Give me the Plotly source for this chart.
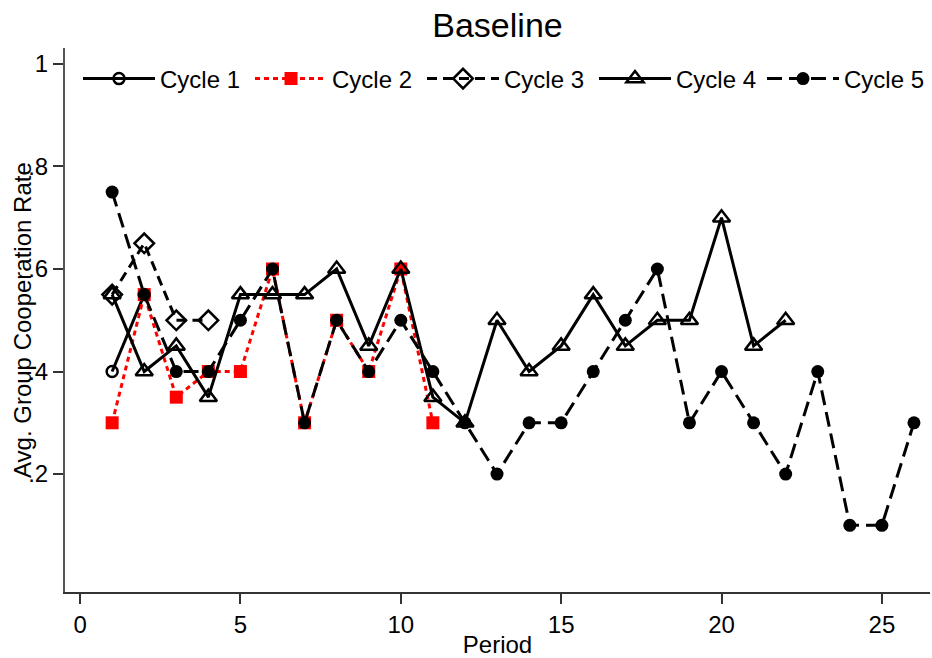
import plotly.graph_objects as go

# ---- data ----
cycle1_period = [1, 2]
cycle1_rate = [0.4, 0.55]

cycle2_period = [1, 2, 3, 4, 5, 6, 7, 8, 9, 10, 11]
cycle2_rate = [0.3, 0.55, 0.35, 0.4, 0.4, 0.6, 0.3, 0.5, 0.4, 0.6, 0.3]

cycle3_period = [1, 2, 3, 4]
cycle3_rate = [0.55, 0.65, 0.5, 0.5]

cycle4_period = list(range(1, 23))
cycle4_rate = [0.55, 0.4, 0.45, 0.35, 0.55, 0.55, 0.55, 0.6, 0.45, 0.6, 0.35,
               0.3, 0.5, 0.4, 0.45, 0.55, 0.45, 0.5, 0.5, 0.7, 0.45, 0.5]

cycle5_period = list(range(1, 27))
cycle5_rate = [0.75, 0.55, 0.4, 0.4, 0.5, 0.6, 0.3, 0.5, 0.4, 0.5, 0.4, 0.3, 0.2,
               0.3, 0.3, 0.4, 0.5, 0.6, 0.3, 0.4, 0.3, 0.2, 0.4, 0.1, 0.1, 0.3]

x_ticks = [0, 5, 10, 15, 20, 25]
y_ticks = [0.2, 0.4, 0.6, 0.8, 1.0]
y_tick_labels = [".2", ".4", ".6", ".8", "1"]

FONT = "Liberation Sans"

fig = go.Figure()

fig.add_trace(go.Scatter(
    x=cycle1_period, y=cycle1_rate, name="Cycle 1", mode="lines+markers", legend="legend",
    line=dict(color="black", width=3, dash="solid"),
    marker=dict(symbol="circle-open", size=11, color="black", line=dict(width=2.5, color="black")),
))
fig.add_trace(go.Scatter(
    x=cycle2_period, y=cycle2_rate, name="Cycle 2", mode="lines+markers", legend="legend2",
    line=dict(color="#ff0000", width=3, dash="5px,4px"),
    marker=dict(symbol="square", size=13, color="#ff0000"),
))
fig.add_trace(go.Scatter(
    x=cycle3_period, y=cycle3_rate, name="Cycle 3", mode="lines+markers", legend="legend3",
    line=dict(color="black", width=3, dash="10px,6px"),
    marker=dict(symbol="diamond-open", size=15, color="black", line=dict(width=2.5, color="black")),
))
fig.add_trace(go.Scatter(
    x=cycle4_period, y=cycle4_rate, name="Cycle 4", mode="lines+markers", legend="legend4",
    line=dict(color="black", width=3, dash="solid"),
    marker=dict(symbol="triangle-up-open", size=15, color="black", line=dict(width=2.5, color="black")),
))
fig.add_trace(go.Scatter(
    x=cycle5_period, y=cycle5_rate, name="Cycle 5", mode="lines+markers", legend="legend5",
    line=dict(color="black", width=3, dash="15px,7px"),
    marker=dict(symbol="circle", size=13, color="black"),
))

legend_line_starts = [83, 255, 427, 599]  # pixel positions (layout only)


def make_legend(x, anchor="left"):
    return dict(orientation="h", x=x, xanchor=anchor,
                y=0.943, yanchor="middle", itemwidth=72,
                font=dict(family=FONT, size=24, color="black"),
                bgcolor="rgba(0,0,0,0)", borderwidth=0)


fig.update_layout(
    width=932, height=658,
    margin=dict(l=65, r=2, t=48, b=66, autoexpand=False),
    paper_bgcolor="white", plot_bgcolor="white",
    font=dict(family=FONT, size=24, color="black"),
    title=dict(text="Baseline", x=0.5, xref="paper", xanchor="center",
               y=1 - 25 / 658, yref="container", yanchor="middle",
               font=dict(family=FONT, size=34, color="black")),
    showlegend=True,
    legend=make_legend((legend_line_starts[0] - 70) / 865),
    legend2=make_legend((legend_line_starts[1] - 70) / 865),
    legend3=make_legend((legend_line_starts[2] - 70) / 865),
    legend4=make_legend((legend_line_starts[3] - 70) / 865),
    legend5=make_legend(1.0, "right"),
    xaxis=dict(range=[-0.47, 26.5], tickmode="array", tickvals=x_ticks,
               showgrid=False, zeroline=False, showline=True, linecolor="#333",
               linewidth=2, ticks="outside", ticklen=10, tickwidth=1.5, tickcolor="#333",
               tickfont=dict(family=FONT, size=24, color="black"),
               title=dict(text="Period", standoff=2, font=dict(family=FONT, size=24, color="black"))),
    yaxis=dict(range=[-0.03, 1.031], tickmode="array", tickvals=y_ticks, ticktext=y_tick_labels,
               showgrid=False, zeroline=False, showline=True, linecolor="#555",
               linewidth=2, ticks="outside", ticklen=10, tickwidth=1.5, tickcolor="#333",
               tickfont=dict(family=FONT, size=24, color="black")),
    annotations=[dict(text="Avg. Group Cooperation Rate", textangle=-90,
                      xref="paper", yref="paper", x=(22 - 65) / 865, y=0.5,
                      xanchor="center", yanchor="middle", showarrow=False,
                      font=dict(family=FONT, size=24, color="black"))],
)

fig.write_html("out.html")
